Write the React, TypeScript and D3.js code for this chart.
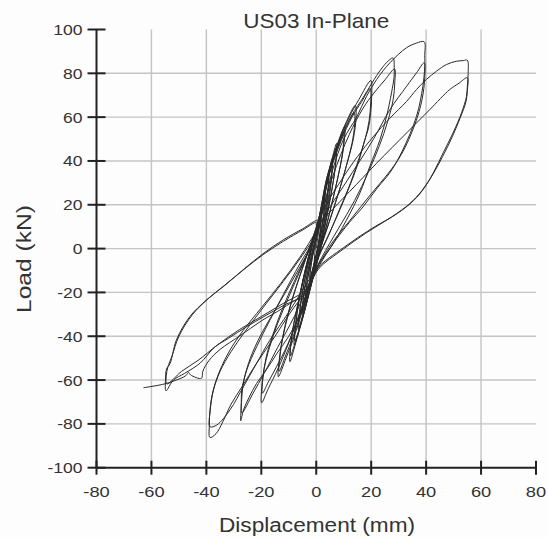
import React from "react";
import * as d3 from "d3";

type P = [number, number];

// Tick values
const xTicks = [-80, -60, -40, -20, 0, 20, 40, 60, 80];
const yTicks = [-100, -80, -60, -40, -20, 0, 20, 40, 60, 80, 100];
const xGrid = [-60, -40, -20, 0, 20, 40, 60];
const yGrid = [-80, -60, -40, -20, 0, 20, 40, 60, 80];

const titleText = "US03 In-Plane";
const xTitle = "Displacement (mm)";
const yTitle = "Load (kN)";

// Hysteresis cycles: [displacement (mm), load (kN)]
const cycleSmall1: P[] = [[0,0],[0.8,7],[1.6,14],[1.4,8],[0.6,1],[-0.6,-6],[-2.2,-13],[-1.8,-7],[-0.6,1]];
const cycleSmall1b: P[] = [[0.2,6],[1.1,11],[1.8,15],[1.6,9],[0.8,2],[-0.5,-6],[-2.4,-14],[-2,-8],[-0.8,0]];
const cycleSmall2: P[] = [[0.6,8],[1.8,16],[3,24],[2.7,16],[1.6,7],[0,-3],[-1.5,-11],[-3.8,-22],[-3.2,-14],[-1.8,-5],[-0.2,3]];
const cycleSmall2b: P[] = [[0.8,9],[2,17],[3.2,25],[2.9,17],[1.8,8],[0.2,-2],[-1.4,-10],[-3.6,-21],[-3,-13],[-1.6,-4],[0,4]];
const cycleSmall3: P[] = [[1,10],[2.6,21],[4.5,34],[4.1,25],[2.8,14],[1,2],[-1.2,-10],[-3,-19],[-5.2,-30],[-4.6,-21],[-3,-10],[-1,1]];
const cycleSmall3b: P[] = [[1.2,11],[2.8,22],[4.6,33],[4.2,24],[3,13],[1.2,1],[-1,-10],[-2.8,-18],[-5,-29],[-4.4,-20],[-2.8,-9],[-0.8,2]];
const cycleSmall4: P[] = [[0.8,10],[2.8,24],[4.3,33],[5.8,41],[5.4,32],[4,20],[2,6],[-0.5,-8],[-3,-21],[-6.5,-37],[-6,-28],[-4.5,-16],[-2.4,-4],[-0.5,6]];
const cycleSmall4b: P[] = [[1,11],[3,25],[4.5,33],[5.9,40],[5.5,31],[4.2,19],[2.2,5],[-0.3,-8],[-2.8,-20],[-6.3,-36],[-5.8,-27],[-4.3,-15],[-2.2,-3],[-0.3,7]];
const cycleSmall5: P[] = [[1,12],[3,25],[5,37],[7.4,48],[7,38],[5.4,25],[3,10],[0.5,-5],[-2.5,-20],[-5,-32],[-8,-44],[-7.5,-34],[-5.8,-20],[-3.5,-7],[-1,5]];
const cycleSmall5b: P[] = [[1.2,13],[3.2,26],[5.2,37],[7.3,46],[6.9,37],[5.3,24],[3,9],[0.6,-5],[-2.4,-19],[-4.8,-31],[-7.8,-42],[-7.3,-33],[-5.6,-19],[-3.3,-6],[-0.8,6]];
const cycle10a: P[] = [[1,12],[3.4,28],[6.4,42],[10.4,55.8],[9.8,45],[7.8,32],[5,17],[2,2],[-1,-12],[-4,-27],[-6.8,-40],[-9.6,-51.6],[-9,-41],[-7,-27],[-4.5,-13],[-1.5,2]];
const cycle10b: P[] = [[1,13],[3.6,29],[6.6,42],[10,53],[9.6,44],[7.6,31],[4.8,16],[1.8,1],[-1.2,-13],[-4.2,-28],[-7,-40],[-9.4,-49],[-8.8,-39],[-6.8,-26],[-4.2,-12],[-1.2,3]];
const cycle14a: P[] = [[1,14],[3.8,32],[7.5,47],[11,58],[14.2,65.3],[14.5,60],[13.5,50],[11.6,40.6],[8.5,27],[5,13],[1.5,0],[-1.5,-12],[-4.5,-26],[-8,-40],[-11,-50],[-13.8,-58.5],[-13.3,-49],[-11.5,-36],[-8.5,-22],[-5,-9],[-1.5,4]];
const cycle14b: P[] = [[1,14],[4,32],[7.6,46],[11,56],[13.8,62],[14,57],[13,48],[11,38],[8,25],[4.6,12],[1.2,-1],[-1.8,-13],[-5,-27],[-8.4,-40],[-11.2,-49],[-13.5,-56],[-13,-47],[-11.2,-35],[-8.2,-21],[-4.8,-8],[-1.2,5]];
const cycle20a: P[] = [[1,14],[4,33],[8,48],[12,60],[15.5,68],[19.9,76.7],[20.2,70],[19.8,62],[19,55],[17.7,49.7],[15.3,39.1],[12,28],[8,16],[4,5],[1,-3],[-2,-14],[-6,-30],[-10,-43],[-14,-55],[-17.5,-64],[-19.9,-70.4],[-19.8,-63],[-19,-55],[-17,-45],[-14,-34],[-10,-22],[-5.5,-9],[-1.5,3]];
const cycle20b: P[] = [[1,14],[4.5,33],[9,49],[13,60],[16.5,67],[19.6,73],[19.8,66],[19.2,58],[17.8,50],[15.5,41],[12.5,30],[8.5,18],[4.5,6],[1.2,-3],[-2.2,-15],[-6.5,-31],[-10.5,-44],[-14.5,-54],[-17.5,-61],[-19.6,-66],[-19.4,-59],[-18.3,-50],[-16,-40],[-12.5,-28],[-8,-15],[-3.5,-3],[0,6]];
const cycle28a: P[] = [[1.5,15],[5,35],[9,50],[13,61],[17.1,69],[20,75],[22,79],[24.4,83.2],[26.8,86.3],[28,87],[28.4,82],[28.3,78],[27.4,71.1],[25.6,60.4],[23.2,49.7],[19.5,37.5],[15.9,25.4],[11,13],[5,0],[1,-7],[-2,-16],[-6,-30],[-10,-40],[-14.4,-48],[-18,-55],[-21.7,-61.5],[-24.5,-68],[-26.5,-73.7],[-27.5,-78.6],[-27.3,-72],[-27.1,-64.6],[-25.3,-55.4],[-21.7,-44.8],[-17,-33],[-12,-21],[-6,-7],[-1,4]];
const cycle28b: P[] = [[1.5,14],[6,33],[12,52],[17,64],[21,71],[25,77],[28.5,82],[28.6,76],[28,68],[26,58],[23,47],[19,35],[14,22],[8,9],[2,-4],[-2,-14],[-8,-31],[-14,-45],[-19,-57],[-23,-66],[-27.1,-75],[-27.1,-68],[-26.3,-60],[-24,-50],[-20,-39],[-14,-26],[-8,-13],[-2,1]];
const cycle40a: P[] = [[2,15],[6,36],[10,50],[14.7,60],[18.3,69.5],[22,77.2],[26.8,84.8],[32.9,91.7],[36.5,93.8],[39.3,94.4],[39.5,88],[39.5,83],[38.8,74],[36.5,60.4],[31.5,45],[27,35],[22.3,27.8],[17,19],[12.1,12],[6,2],[1,-8],[-3,-18],[-9.6,-29.5],[-15,-40],[-21.7,-52.3],[-27,-63],[-31,-71],[-34,-79],[-36.5,-84.5],[-38.7,-86.2],[-38.9,-80],[-38.7,-73.7],[-37.5,-64.6],[-35,-55.4],[-31.4,-46.3],[-26.5,-37.2],[-20,-27],[-13,-16],[-6,-4],[0,8]];
const cycle40b: P[] = [[3,15],[10.7,30],[20.7,49.7],[26.8,63.4],[32.9,74.1],[36.5,80.2],[39.3,84.8],[39.5,78],[38.5,68],[36,57],[31,43],[26,34],[20,25],[13,14],[6,3],[1,-7],[-4,-17],[-10,-29],[-17,-42],[-22,-53],[-26.5,-63],[-31.4,-73.6],[-36.2,-80.5],[-38.7,-81.3],[-38.6,-74],[-37.5,-65],[-35,-56],[-31,-47],[-26,-38],[-20,-28],[-12,-15],[-5,-3],[1,9]];
const cycle55a: P[] = [[2,16],[9,31],[15,42],[20.7,51],[26.8,59.5],[32.9,67.2],[36.5,72.6],[40.1,77.2],[43.8,81],[47.4,84],[51,85.5],[53.5,85.8],[55,86],[55.3,80],[55,74],[54.7,69.5],[52.9,62],[49.8,52.8],[46.2,43.7],[42.8,35],[39.5,28],[35.5,22],[29.5,16],[20,9],[10,0.5],[0,-9.7],[-3.5,-20.4],[-12,-26],[-19,-31],[-25.3,-35.6],[-32,-41],[-37,-45],[-42.3,-52.3],[-48,-57],[-52,-60],[-54.7,-64.9],[-54.9,-60],[-54.5,-55],[-53.2,-52.4],[-50.9,-41.7],[-46,-31],[-39.9,-23.4],[-33.9,-17.3],[-26.5,-9.7],[-19.4,-2.8],[-12,3.3],[-4.8,8.6],[0,12]];
const cycle55b: P[] = [[0,11],[12.1,26],[22,39],[32.9,52.8],[41.3,63.4],[48.6,72.6],[52,75.5],[55,78],[55,72],[54.5,67],[52.5,60],[49.5,51],[46,42],[42.5,34],[38.5,26.5],[34,20.5],[27.5,14.5],[18,7],[9,-1],[1,-9],[-4,-19],[-12,-25],[-20,-31],[-28,-37],[-36,-44],[-43,-51],[-49,-56],[-54.4,-61.8],[-54.6,-58],[-54,-54],[-52.5,-49],[-50,-40],[-45,-30],[-39,-22.5],[-33,-16.5],[-26,-9],[-19,-2],[-12,4],[-5,9],[1,13]];
const finalPush: P[] = [[0,5],[-3,-18],[-12,-27],[-20,-33],[-28,-40],[-35,-46],[-39,-51],[-41.3,-56],[-41.8,-59.2],[-45.7,-57.7],[-46.5,-56.5],[-47.5,-58],[-52,-60.5],[-56,-62],[-62.9,-63.5]];

const cycles: P[][] = [cycleSmall1, cycleSmall1b, cycleSmall2, cycleSmall2b, cycleSmall3, cycleSmall3b, cycleSmall4, cycleSmall4b, cycleSmall5, cycleSmall5b, cycle10a, cycle10b, cycle14a, cycle14b, cycle20a, cycle20b, cycle28a, cycle28b, cycle40a, cycle40b, cycle55a, cycle55b, finalPush];

const W = 548;
const H = 537;

export default function App() {
  const x = d3.scaleLinear().domain([-80, 80]).range([96.5, 536]);
  const y = d3.scaleLinear().domain([-100, 100]).range([467.7, 29.5]);
  const all: P[] = ([] as P[]).concat(...cycles);
  const line = d3
    .line<P>()
    .x((d) => x(d[0]))
    .y((d) => y(d[1]))
    .curve(d3.curveCatmullRom.alpha(0.5));
  const font = "'Liberation Sans', Arial, Helvetica, sans-serif";
  const cx = x(0);
  return (
    <svg
      width={W}
      height={H}
      viewBox={`0 0 ${W} ${H}`}
      style={{ position: "absolute", left: 0, top: 0, background: "#fff" }}
    >
      <rect width={W} height={H} fill="#fdfdfd" />
      {xGrid.map((v) => (
        <line key={"gx" + v} x1={x(v)} x2={x(v)} y1={y(-100)} y2={y(100)} stroke="#c4c4c4" strokeWidth={1.4} />
      ))}
      {yGrid.map((v) => (
        <line key={"gy" + v} x1={x(-80)} x2={x(80)} y1={y(v)} y2={y(v)} stroke="#c4c4c4" strokeWidth={1.4} />
      ))}
      <path d={line(all) ?? ""} fill="none" stroke="#2a2a2a" strokeWidth={1} strokeLinejoin="round" />
      {/* axes */}
      <line x1={x(-80)} x2={x(-80)} y1={y(-100)} y2={y(100)} stroke="#222" strokeWidth={2} />
      <line x1={x(-80)} x2={x(80)} y1={y(-100)} y2={y(-100)} stroke="#222" strokeWidth={2} />
      {yTicks.map((v) => (
        <g key={"yt" + v}>
          <line x1={x(-80) - 9} x2={x(-80) + 9} y1={y(v)} y2={y(v)} stroke="#222" strokeWidth={2} />
          <text
            transform={`translate(82.5, ${y(v) + 5.5}) scale(1.17, 1)`}
            textAnchor="end"
            fontFamily={font}
            fontSize={15}
            fill="#333"
          >
            {v}
          </text>
        </g>
      ))}
      {xTicks.map((v) => (
        <g key={"xt" + v}>
          <line x1={x(v)} x2={x(v)} y1={y(-100) - 7} y2={y(-100) + 7} stroke="#222" strokeWidth={2} />
          <text
            transform={`translate(${x(v)}, 496.5) scale(1.18, 1)`}
            textAnchor="middle"
            fontFamily={font}
            fontSize={15.5}
            fill="#333"
          >
            {v}
          </text>
        </g>
      ))}
      <text x={cx} y={28.3} textAnchor="middle" fontFamily={font} fontSize={21} fill="#333" textLength={146} lengthAdjust="spacingAndGlyphs">
        {titleText}
      </text>
      <text x={317} y={532.3} textAnchor="middle" fontFamily={font} fontSize={20} fill="#333" textLength={196} lengthAdjust="spacingAndGlyphs">
        {xTitle}
      </text>
      <text
        transform={`translate(31, 259) rotate(-90)`}
        textAnchor="middle"
        fontFamily={font}
        fontSize={20}
        fill="#333"
        textLength={108}
        lengthAdjust="spacingAndGlyphs"
      >
        {yTitle}
      </text>
    </svg>
  );
}
